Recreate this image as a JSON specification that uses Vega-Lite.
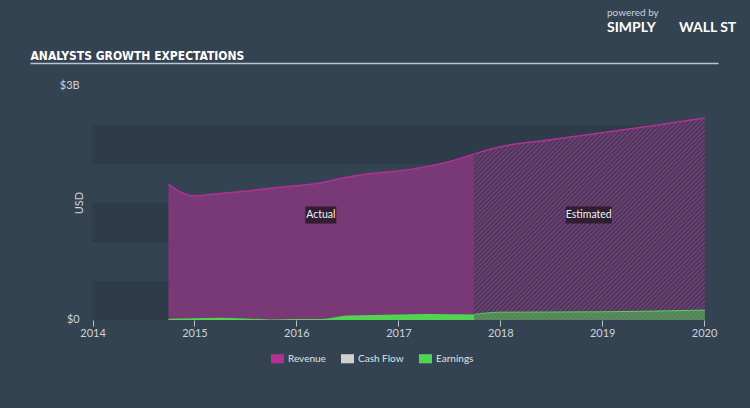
{
  "$schema": "https://vega.github.io/schema/vega-lite/v6.json",
  "width": 688,
  "height": 234,
  "autosize": {"type": "none"},
  "padding": {"left": 30, "top": 86, "right": 32, "bottom": 88},
  "background": "#344351",
  "config": {
    "view": {"stroke": null},
    "font": "Lato",
    "axis": {"grid": false}
  },
  "title": {
    "text": "powered by",
    "subtitle": "SIMPLY\u00a0\u00a0\u00a0\u00a0\u00a0\u00a0\u00a0WALL ST",
    "frame": "group",
    "anchor": "end",
    "align": "left",
    "dx": -111,
    "offset": 14,
    "font": "Lato",
    "fontSize": 10,
    "fontWeight": "normal",
    "color": "#c9d1d9",
    "subtitleFont": "Lato",
    "subtitleFontSize": 14,
    "subtitleFontWeight": "bold",
    "subtitleColor": "#ffffff",
    "subtitlePadding": 3
  },
  "datasets": {
    "revenue": [
      {"date": "2014-09-30", "value": 1740000000, "phase": "Actual", "metric": "Revenue"},
      {"date": "2014-12-31", "value": 1590000000, "phase": "Actual", "metric": "Revenue"},
      {"date": "2015-03-31", "value": 1620000000, "phase": "Actual", "metric": "Revenue"},
      {"date": "2015-06-30", "value": 1650000000, "phase": "Actual", "metric": "Revenue"},
      {"date": "2015-09-30", "value": 1690000000, "phase": "Actual", "metric": "Revenue"},
      {"date": "2015-12-31", "value": 1720000000, "phase": "Actual", "metric": "Revenue"},
      {"date": "2016-03-31", "value": 1760000000, "phase": "Actual", "metric": "Revenue"},
      {"date": "2016-06-30", "value": 1830000000, "phase": "Actual", "metric": "Revenue"},
      {"date": "2016-09-30", "value": 1880000000, "phase": "Actual", "metric": "Revenue"},
      {"date": "2016-12-31", "value": 1910000000, "phase": "Actual", "metric": "Revenue"},
      {"date": "2017-03-31", "value": 1960000000, "phase": "Actual", "metric": "Revenue"},
      {"date": "2017-06-30", "value": 2030000000, "phase": "Actual", "metric": "Revenue"},
      {"date": "2017-09-30", "value": 2130000000, "phase": "Actual", "metric": "Revenue"},
      {"date": "2017-09-30", "value": 2130000000, "phase": "Estimated", "metric": "Revenue"},
      {"date": "2017-12-31", "value": 2220000000, "phase": "Estimated", "metric": "Revenue"},
      {"date": "2018-06-30", "value": 2310000000, "phase": "Estimated", "metric": "Revenue"},
      {"date": "2018-12-31", "value": 2400000000, "phase": "Estimated", "metric": "Revenue"},
      {"date": "2019-06-30", "value": 2490000000, "phase": "Estimated", "metric": "Revenue"},
      {"date": "2020-01-04", "value": 2590000000, "phase": "Estimated", "metric": "Revenue"}
    ],
    "earnings": [
      {"date": "2014-09-30", "value": 15000000, "phase": "Actual", "metric": "Earnings"},
      {"date": "2014-12-31", "value": 22000000, "phase": "Actual", "metric": "Earnings"},
      {"date": "2015-03-31", "value": 30000000, "phase": "Actual", "metric": "Earnings"},
      {"date": "2015-06-30", "value": 20000000, "phase": "Actual", "metric": "Earnings"},
      {"date": "2015-09-30", "value": 8000000, "phase": "Actual", "metric": "Earnings"},
      {"date": "2015-12-31", "value": 12000000, "phase": "Actual", "metric": "Earnings"},
      {"date": "2016-03-31", "value": 12000000, "phase": "Actual", "metric": "Earnings"},
      {"date": "2016-06-30", "value": 58000000, "phase": "Actual", "metric": "Earnings"},
      {"date": "2016-09-30", "value": 65000000, "phase": "Actual", "metric": "Earnings"},
      {"date": "2016-12-31", "value": 70000000, "phase": "Actual", "metric": "Earnings"},
      {"date": "2017-03-31", "value": 77000000, "phase": "Actual", "metric": "Earnings"},
      {"date": "2017-06-30", "value": 75000000, "phase": "Actual", "metric": "Earnings"},
      {"date": "2017-09-30", "value": 72000000, "phase": "Actual", "metric": "Earnings"},
      {"date": "2017-09-30", "value": 72000000, "phase": "Estimated", "metric": "Earnings"},
      {"date": "2017-12-31", "value": 100000000, "phase": "Estimated", "metric": "Earnings"},
      {"date": "2018-12-31", "value": 105000000, "phase": "Estimated", "metric": "Earnings"},
      {"date": "2020-01-04", "value": 127000000, "phase": "Estimated", "metric": "Earnings"}
    ],
    "bands": [
      {"lo": 0, "hi": 500000000},
      {"lo": 1000000000, "hi": 1500000000},
      {"lo": 2000000000, "hi": 2500000000}
    ],
    "labels": [
      {"label": "Actual", "date": "2016-03-29", "value": 1346000000},
      {"label": "Estimated", "date": "2018-11-14", "value": 1346000000}
    ],
    "yticks": [
      {"date": "2013-11-16", "value": 0, "text": "$0"},
      {"date": "2013-11-16", "value": 3000000000, "text": "$3B"}
    ],
    "ytitle": [
      {"date": "2013-11-18", "value": 1500000000, "text": "USD"}
    ]
  },
  "resolve": {"axis": {"x": "independent"}},
  "layer": [
    {
      "data": {"name": "bands"},
      "mark": {"type": "rect", "color": "#2e3c49"},
      "encoding": {
        "x": {"datum": {"year": 2014, "month": 1, "date": 1}, "type": "temporal", "axis": null},
        "x2": {"datum": {"year": 2020, "month": 1, "date": 4}},
        "y": {"field": "lo", "type": "quantitative", "scale": {"domain": [0, 3000000000], "nice": false}, "axis": null},
        "y2": {"field": "hi"}
      }
    },
    {
      "data": {"name": "revenue"},
      "transform": [{"filter": "datum.phase === 'Actual'"}],
      "mark": {"type": "area", "interpolate": "monotone", "color": "#344351"},
      "encoding": {
        "x": {
          "field": "date", "type": "temporal",
          "scale": {"domain": [{"year": 2013, "month": 5, "date": 22}, {"year": 2020, "month": 2, "date": 20}]},
          "axis": {
            "orient": "top", "offset": 23, "domain": true, "domainColor": "#b6c6d6", "domainWidth": 1.5,
            "ticks": false, "labels": false,
            "title": "ANALYSTS GROWTH EXPECTATIONS", "titleX": 0, "titleY": -4, "titleAlign": "left",
            "titleBaseline": "alphabetic", "titleAngle": 0, "titleFont": "DejaVu Sans Condensed, Liberation Sans, sans-serif",
            "titleFontSize": 12, "titleFontWeight": "bold", "titleColor": "#ffffff"
          }
        },
        "y": {"field": "value", "type": "quantitative", "axis": null}
      }
    },
    {
      "data": {"name": "revenue"},
      "transform": [{"filter": "datum.phase === 'Estimated'"}],
      "mark": {"type": "area", "interpolate": "monotone", "color": "#344351"},
      "encoding": {
        "x": {"field": "date", "type": "temporal", "axis": null},
        "y": {"field": "value", "type": "quantitative", "axis": null}
      }
    },
    {
      "data": {"name": "revenue"},
      "transform": [{"filter": "datum.phase === 'Actual'"}],
      "mark": {"type": "area", "interpolate": "monotone", "fillOpacity": 0.55, "line": {"strokeWidth": 1.5}},
      "encoding": {
        "x": {
          "field": "date", "type": "temporal",
          "axis": {
            "orient": "bottom", "domain": false, "ticks": true, "tickSize": 6, "tickColor": "#b8c2cc",
            "labelColor": "#cdd4da", "labelFontSize": 11, "labelPadding": 1, "format": "%Y",
            "tickCount": {"interval": "year", "step": 1}, "title": null
          }
        },
        "y": {"field": "value", "type": "quantitative", "axis": null},
        "color": {
          "field": "metric", "type": "nominal",
          "scale": {"domain": ["Revenue", "Cash Flow", "Earnings"], "range": ["#b33095", "#d0d0d0", "#52d352"]},
          "legend": {
            "orient": "none", "legendX": 241, "legendY": 266, "direction": "horizontal", "title": null,
            "symbolType": "M-1,-0.7H1V0.7H-1Z", "symbolSize": 169, "symbolOpacity": 1, "symbolStrokeWidth": 0,
            "labelColor": "#dfe3e7", "labelFontSize": 10, "labelOffset": 4, "columnPadding": 15
          }
        }
      }
    },
    {
      "data": {"name": "revenue"},
      "transform": [{"filter": "datum.phase === 'Estimated'"}],
      "mark": {
        "type": "area", "interpolate": "monotone",
        "fill": {
          "gradient": "linear", "x1": 0, "y1": 0, "x2": 1.1, "y2": 0.967,
          "stops": [
            {"offset": 0, "color": "#963f90"}, {"offset": 0.005, "color": "#44314e"},
            {"offset": 0.01, "color": "#963f90"}, {"offset": 0.015, "color": "#44314e"},
            {"offset": 0.02, "color": "#963f90"}, {"offset": 0.025, "color": "#44314e"},
            {"offset": 0.03, "color": "#963f90"}, {"offset": 0.035, "color": "#44314e"},
            {"offset": 0.04, "color": "#963f90"}, {"offset": 0.045, "color": "#44314e"},
            {"offset": 0.05, "color": "#963f90"}, {"offset": 0.055, "color": "#44314e"},
            {"offset": 0.06, "color": "#963f90"}, {"offset": 0.065, "color": "#44314e"},
            {"offset": 0.07, "color": "#963f90"}, {"offset": 0.075, "color": "#44314e"},
            {"offset": 0.08, "color": "#963f90"}, {"offset": 0.085, "color": "#44314e"},
            {"offset": 0.09, "color": "#963f90"}, {"offset": 0.095, "color": "#44314e"},
            {"offset": 0.1, "color": "#963f90"}, {"offset": 0.105, "color": "#44314e"},
            {"offset": 0.11, "color": "#963f90"}, {"offset": 0.115, "color": "#44314e"},
            {"offset": 0.12, "color": "#963f90"}, {"offset": 0.125, "color": "#44314e"},
            {"offset": 0.13, "color": "#963f90"}, {"offset": 0.135, "color": "#44314e"},
            {"offset": 0.14, "color": "#963f90"}, {"offset": 0.145, "color": "#44314e"},
            {"offset": 0.15, "color": "#963f90"}, {"offset": 0.155, "color": "#44314e"},
            {"offset": 0.16, "color": "#963f90"}, {"offset": 0.165, "color": "#44314e"},
            {"offset": 0.17, "color": "#963f90"}, {"offset": 0.175, "color": "#44314e"},
            {"offset": 0.18, "color": "#963f90"}, {"offset": 0.185, "color": "#44314e"},
            {"offset": 0.19, "color": "#963f90"}, {"offset": 0.195, "color": "#44314e"},
            {"offset": 0.2, "color": "#963f90"}, {"offset": 0.205, "color": "#44314e"},
            {"offset": 0.21, "color": "#963f90"}, {"offset": 0.215, "color": "#44314e"},
            {"offset": 0.22, "color": "#963f90"}, {"offset": 0.225, "color": "#44314e"},
            {"offset": 0.23, "color": "#963f90"}, {"offset": 0.235, "color": "#44314e"},
            {"offset": 0.24, "color": "#963f90"}, {"offset": 0.245, "color": "#44314e"},
            {"offset": 0.25, "color": "#963f90"}, {"offset": 0.255, "color": "#44314e"},
            {"offset": 0.26, "color": "#963f90"}, {"offset": 0.265, "color": "#44314e"},
            {"offset": 0.27, "color": "#963f90"}, {"offset": 0.275, "color": "#44314e"},
            {"offset": 0.28, "color": "#963f90"}, {"offset": 0.285, "color": "#44314e"},
            {"offset": 0.29, "color": "#963f90"}, {"offset": 0.295, "color": "#44314e"},
            {"offset": 0.3, "color": "#963f90"}, {"offset": 0.305, "color": "#44314e"},
            {"offset": 0.31, "color": "#963f90"}, {"offset": 0.315, "color": "#44314e"},
            {"offset": 0.32, "color": "#963f90"}, {"offset": 0.325, "color": "#44314e"},
            {"offset": 0.33, "color": "#963f90"}, {"offset": 0.335, "color": "#44314e"},
            {"offset": 0.34, "color": "#963f90"}, {"offset": 0.345, "color": "#44314e"},
            {"offset": 0.35, "color": "#963f90"}, {"offset": 0.355, "color": "#44314e"},
            {"offset": 0.36, "color": "#963f90"}, {"offset": 0.365, "color": "#44314e"},
            {"offset": 0.37, "color": "#963f90"}, {"offset": 0.375, "color": "#44314e"},
            {"offset": 0.38, "color": "#963f90"}, {"offset": 0.385, "color": "#44314e"},
            {"offset": 0.39, "color": "#963f90"}, {"offset": 0.395, "color": "#44314e"},
            {"offset": 0.4, "color": "#963f90"}, {"offset": 0.405, "color": "#44314e"},
            {"offset": 0.41, "color": "#963f90"}, {"offset": 0.415, "color": "#44314e"},
            {"offset": 0.42, "color": "#963f90"}, {"offset": 0.425, "color": "#44314e"},
            {"offset": 0.43, "color": "#963f90"}, {"offset": 0.435, "color": "#44314e"},
            {"offset": 0.44, "color": "#963f90"}, {"offset": 0.445, "color": "#44314e"},
            {"offset": 0.45, "color": "#963f90"}, {"offset": 0.455, "color": "#44314e"},
            {"offset": 0.46, "color": "#963f90"}, {"offset": 0.465, "color": "#44314e"},
            {"offset": 0.47, "color": "#963f90"}, {"offset": 0.475, "color": "#44314e"},
            {"offset": 0.48, "color": "#963f90"}, {"offset": 0.485, "color": "#44314e"},
            {"offset": 0.49, "color": "#963f90"}, {"offset": 0.495, "color": "#44314e"},
            {"offset": 0.5, "color": "#963f90"}, {"offset": 0.505, "color": "#44314e"},
            {"offset": 0.51, "color": "#963f90"}, {"offset": 0.515, "color": "#44314e"},
            {"offset": 0.52, "color": "#963f90"}, {"offset": 0.525, "color": "#44314e"},
            {"offset": 0.53, "color": "#963f90"}, {"offset": 0.535, "color": "#44314e"},
            {"offset": 0.54, "color": "#963f90"}, {"offset": 0.545, "color": "#44314e"},
            {"offset": 0.55, "color": "#963f90"}, {"offset": 0.555, "color": "#44314e"},
            {"offset": 0.56, "color": "#963f90"}, {"offset": 0.565, "color": "#44314e"},
            {"offset": 0.57, "color": "#963f90"}, {"offset": 0.575, "color": "#44314e"},
            {"offset": 0.58, "color": "#963f90"}, {"offset": 0.585, "color": "#44314e"},
            {"offset": 0.59, "color": "#963f90"}, {"offset": 0.595, "color": "#44314e"},
            {"offset": 0.6, "color": "#963f90"}, {"offset": 0.605, "color": "#44314e"},
            {"offset": 0.61, "color": "#963f90"}, {"offset": 0.615, "color": "#44314e"},
            {"offset": 0.62, "color": "#963f90"}, {"offset": 0.625, "color": "#44314e"},
            {"offset": 0.63, "color": "#963f90"}, {"offset": 0.635, "color": "#44314e"},
            {"offset": 0.64, "color": "#963f90"}, {"offset": 0.645, "color": "#44314e"},
            {"offset": 0.65, "color": "#963f90"}, {"offset": 0.655, "color": "#44314e"},
            {"offset": 0.66, "color": "#963f90"}, {"offset": 0.665, "color": "#44314e"},
            {"offset": 0.67, "color": "#963f90"}, {"offset": 0.675, "color": "#44314e"},
            {"offset": 0.68, "color": "#963f90"}, {"offset": 0.685, "color": "#44314e"},
            {"offset": 0.69, "color": "#963f90"}, {"offset": 0.695, "color": "#44314e"},
            {"offset": 0.7, "color": "#963f90"}, {"offset": 0.705, "color": "#44314e"},
            {"offset": 0.71, "color": "#963f90"}, {"offset": 0.715, "color": "#44314e"},
            {"offset": 0.72, "color": "#963f90"}, {"offset": 0.725, "color": "#44314e"},
            {"offset": 0.73, "color": "#963f90"}, {"offset": 0.735, "color": "#44314e"},
            {"offset": 0.74, "color": "#963f90"}, {"offset": 0.745, "color": "#44314e"},
            {"offset": 0.75, "color": "#963f90"}, {"offset": 0.755, "color": "#44314e"},
            {"offset": 0.76, "color": "#963f90"}, {"offset": 0.765, "color": "#44314e"},
            {"offset": 0.77, "color": "#963f90"}, {"offset": 0.775, "color": "#44314e"},
            {"offset": 0.78, "color": "#963f90"}, {"offset": 0.785, "color": "#44314e"},
            {"offset": 0.79, "color": "#963f90"}, {"offset": 0.795, "color": "#44314e"},
            {"offset": 0.8, "color": "#963f90"}, {"offset": 0.805, "color": "#44314e"},
            {"offset": 0.81, "color": "#963f90"}, {"offset": 0.815, "color": "#44314e"},
            {"offset": 0.82, "color": "#963f90"}, {"offset": 0.825, "color": "#44314e"},
            {"offset": 0.83, "color": "#963f90"}, {"offset": 0.835, "color": "#44314e"},
            {"offset": 0.84, "color": "#963f90"}, {"offset": 0.845, "color": "#44314e"},
            {"offset": 0.85, "color": "#963f90"}, {"offset": 0.855, "color": "#44314e"},
            {"offset": 0.86, "color": "#963f90"}, {"offset": 0.865, "color": "#44314e"},
            {"offset": 0.87, "color": "#963f90"}, {"offset": 0.875, "color": "#44314e"},
            {"offset": 0.88, "color": "#963f90"}, {"offset": 0.885, "color": "#44314e"},
            {"offset": 0.89, "color": "#963f90"}, {"offset": 0.895, "color": "#44314e"},
            {"offset": 0.9, "color": "#963f90"}, {"offset": 0.905, "color": "#44314e"},
            {"offset": 0.91, "color": "#963f90"}, {"offset": 0.915, "color": "#44314e"},
            {"offset": 0.92, "color": "#963f90"}, {"offset": 0.925, "color": "#44314e"},
            {"offset": 0.93, "color": "#963f90"}, {"offset": 0.935, "color": "#44314e"},
            {"offset": 0.94, "color": "#963f90"}, {"offset": 0.945, "color": "#44314e"},
            {"offset": 0.95, "color": "#963f90"}, {"offset": 0.955, "color": "#44314e"},
            {"offset": 0.96, "color": "#963f90"}, {"offset": 0.965, "color": "#44314e"},
            {"offset": 0.97, "color": "#963f90"}, {"offset": 0.975, "color": "#44314e"},
            {"offset": 0.98, "color": "#963f90"}, {"offset": 0.985, "color": "#44314e"},
            {"offset": 0.99, "color": "#963f90"}, {"offset": 0.995, "color": "#44314e"},
            {"offset": 1, "color": "#963f90"}
          ]
        },
        "line": {"color": "#b33095", "strokeWidth": 1.5}
      },
      "encoding": {
        "x": {"field": "date", "type": "temporal", "axis": null},
        "y": {"field": "value", "type": "quantitative", "axis": null}
      }
    },
    {
      "data": {"name": "earnings"},
      "transform": [{"filter": "datum.phase === 'Actual'"}],
      "mark": {"type": "area", "interpolate": "monotone", "fillOpacity": 1},
      "encoding": {
        "x": {"field": "date", "type": "temporal", "axis": null},
        "y": {"field": "value", "type": "quantitative", "axis": null},
        "color": {"field": "metric", "type": "nominal"}
      }
    },
    {
      "data": {"name": "earnings"},
      "transform": [{"filter": "datum.phase === 'Estimated'"}],
      "mark": {"type": "area", "interpolate": "monotone", "fillOpacity": 0.5, "line": {"strokeWidth": 1}},
      "encoding": {
        "x": {"field": "date", "type": "temporal", "axis": null},
        "y": {"field": "value", "type": "quantitative", "axis": null},
        "color": {"field": "metric", "type": "nominal"}
      }
    },
    {
      "mark": {"type": "rule", "color": "#b8c2cc", "strokeWidth": 1},
      "encoding": {
        "x": {"datum": {"year": 2014, "month": 1, "date": 1}, "type": "temporal", "axis": null},
        "x2": {"datum": {"year": 2020, "month": 1, "date": 4}},
        "y": {"datum": 0, "type": "quantitative", "axis": null}
      }
    },
    {
      "data": {"name": "yticks"},
      "mark": {"type": "text", "color": "#cdd4da", "fontSize": 11, "font": "Lato", "align": "right", "baseline": "middle"},
      "encoding": {
        "x": {"field": "date", "type": "temporal", "axis": null},
        "y": {"field": "value", "type": "quantitative", "axis": null},
        "text": {"field": "text"}
      }
    },
    {
      "data": {"name": "ytitle"},
      "mark": {"type": "text", "color": "#cdd4da", "fontSize": 11, "font": "Lato", "align": "center", "baseline": "middle", "angle": 270},
      "encoding": {
        "x": {"field": "date", "type": "temporal", "axis": null},
        "y": {"field": "value", "type": "quantitative", "axis": null},
        "text": {"field": "text"}
      }
    },
    {
      "data": {"name": "labels"},
      "transform": [{"filter": "datum.label === 'Actual'"}],
      "mark": {"type": "point", "shape": "M-1,-0.55H1V0.55H-1Z", "filled": true, "size": 961, "color": "#2a1c2c", "opacity": 0.9},
      "encoding": {
        "x": {"field": "date", "type": "temporal", "axis": null},
        "y": {"field": "value", "type": "quantitative", "axis": null}
      }
    },
    {
      "data": {"name": "labels"},
      "transform": [{"filter": "datum.label === 'Estimated'"}],
      "mark": {"type": "point", "shape": "M-1,-0.37H1V0.37H-1Z", "filled": true, "size": 2116, "color": "#2a1c2c", "opacity": 0.9},
      "encoding": {
        "x": {"field": "date", "type": "temporal", "axis": null},
        "y": {"field": "value", "type": "quantitative", "axis": null}
      }
    },
    {
      "data": {"name": "labels"},
      "mark": {"type": "text", "color": "#f2f2f2", "fontSize": 10.5, "font": "Lato", "align": "center", "baseline": "middle"},
      "encoding": {
        "x": {"field": "date", "type": "temporal", "axis": null},
        "y": {"field": "value", "type": "quantitative", "axis": null},
        "text": {"field": "label"}
      }
    }
  ]
}
